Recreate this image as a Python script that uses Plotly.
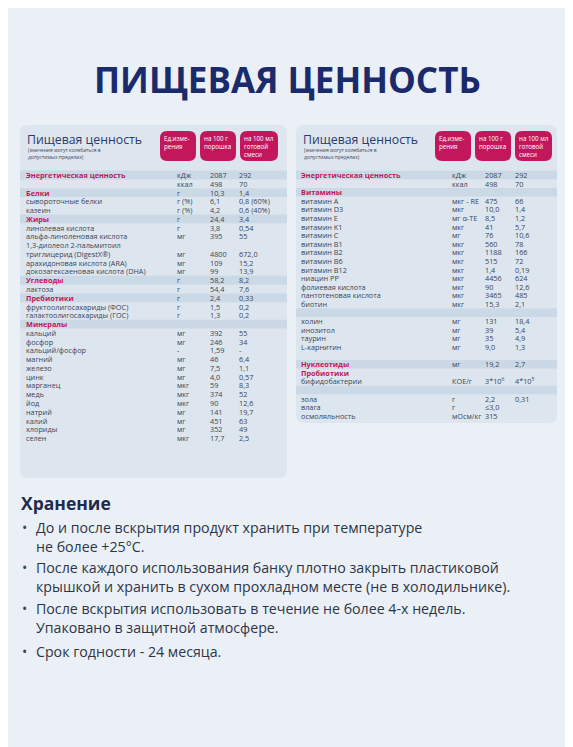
import plotly.graph_objects as go

W, H = 573, 747
# ---------- data ----------
left_names = ["Энергетическая ценность", "", "Белки", "сывороточные белки", "казеин", "Жиры",
              "линолевая кислота", "альфа-линоленовая кислота", "1,3-диолеол 2-пальмитоил",
              "триглицерид (DigestX®)", "арахидоновая кислота (ARA)", "докозагексаеновая кислота (DHA)",
              "Углеводы", "лактоза", "Пребиотики", "фруктоолигосахариды (ФОС)", "галактоолигосахариды (ГОС)",
              "Минералы", "кальций", "фосфор", "кальций/фосфор", "магний", "железо", "цинк", "марганец",
              "медь", "йод", "натрий", "калий", "хлориды", "селен"]
left_units = ["кДж", "ккал", "г", "г (%)", "г (%)", "г", "г", "мг", "", "мг", "мг", "мг", "г", "г", "г", "г", "г",
              "", "мг", "мг", "-", "мг", "мг", "мг", "мкг", "мкг", "мкг", "мг", "мг", "мг", "мкг"]
left_v1 = ["2087", "498", "10,3", "6,1", "4,2", "24,4", "3,8", "395", "", "4800", "109", "99", "58,2", "54,4",
           "2,4", "1,5", "1,3", "", "392", "246", "1,59", "46", "7,5", "4,0", "59", "374", "90", "141", "451",
           "352", "17,7"]
left_v2 = ["292", "70", "1,4", "0,8 (60%)", "0,6 (40%)", "3,4", "0,54", "55", "", "672,0", "15,2", "13,9", "8,2",
           "7,6", "0,33", "0,2", "0,2", "", "55", "34", "-", "6,4", "1,1", "0,57", "8,3", "52", "12,6", "19,7",
           "63", "49", "2,5"]
left_cat = [0, 2, 5, 12, 14, 17]

right_names = ["Энергетическая ценность", "", "Витамины", "витамин A", "витамин D3", "витамин E", "витамин K1",
               "витамин C", "витамин B1", "витамин B2", "витамин B6", "витамин B12", "ниацин PP",
               "фолиевая кислота", "пантотеновая кислота", "биотин", "", "холин", "инозитол", "таурин",
               "L-карнитин", "", "Нуклеотиды", "Пробиотики", "бифидобактерии", "", "зола", "влага",
               "осмоляльность"]
right_units = ["кДж", "ккал", "", "мкг - RE", "мкг", "мг α-TE", "мкг", "мг", "мкг", "мкг", "мкг", "мкг", "мкг",
               "мкг", "мкг", "мкг", "", "мг", "мг", "мг", "мг", "", "мг", "", "КОЕ/г", "", "г", "г", "мОсм/кг"]
right_v1 = ["2087", "498", "", "475", "10,0", "8,5", "41", "76", "560", "1188", "515", "1,4", "4456", "90",
            "3465", "15,3", "", "131", "39", "35", "9,0", "", "19,2", "", "3*10<sup>6</sup>", "", "2,2", "≤3,0", "315"]
right_v2 = ["292", "70", "", "66", "1,4", "1,2", "5,7", "10,6", "78", "166", "72", "0,19", "624", "12,6", "485",
            "2,1", "", "18,4", "5,4", "4,9", "1,3", "", "2,7", "", "4*10<sup>5</sup>", "", "0,31", "", ""]
right_cat = [0, 2, 22, 23]
right_band = [0, 2, 16, 22, 25]
left_band = [0, 2, 5, 12, 14, 17]

headers = ["Ед.изме-<br>рения", "на 100 г<br>порошка", "на 100 мл<br>готовой<br>смеси"]
storage_title = "Хранение"
storage_lines = [
    ["До и после вскрытия продукт хранить при температуре", "не более +25°С."],
    ["После каждого использования банку плотно закрыть пластиковой",
     "крышкой и хранить в сухом прохладном месте (не в холодильнике)."],
    ["После вскрытия использовать в течение не более 4-х недель.", "Упаковано в защитной атмосфере."],
    ["Срок годности - 24 месяца."],
]

PINK = "#c2185b"
NAVY = "#1b2a6b"
TXT = "#3a4556"
FONT = "Open Sans"
OFF = 8  # page body margin

fig = go.Figure()
shapes, ann = [], []

def rrect(x0, y0, x1, y1, r, color):
    p = (f"M{x0+r},{y0} L{x1-r},{y0} Q{x1},{y0} {x1},{y0+r} L{x1},{y1-r} Q{x1},{y1} {x1-r},{y1} "
         f"L{x0+r},{y1} Q{x0},{y1} {x0},{y1-r} L{x0},{y0+r} Q{x0},{y0} {x0+r},{y0} Z")
    shapes.append(dict(type="path", path=p, xref="x", yref="y", fillcolor=color, line_width=0, layer="below"))

def panel(px0, px1, py1, names, units, v1, v2, cats, bands, y0, dy, cols, boxes):
    rrect(px0, 125, px1, py1, 8, "#dde6ef")
    for b in bands:
        yc = y0 + b * dy
        shapes.append(dict(type="rect", xref="x", yref="y", x0=px0, x1=px1, y0=yc - dy / 2, y1=yc + dy / 2,
                           fillcolor="#cbd8e5", line_width=0, layer="below"))
    ann.append(dict(x=px0 + 5, y=139, text="Пищевая ценность", font=dict(size=12.3, color="#2a3a6a", family=FONT),
                    xanchor="left", yanchor="middle", showarrow=False, xref="x", yref="y"))
    ann.append(dict(x=px0 + 6, y=154, text="(значения могут колебаться в<br>допустимых пределах)",
                    font=dict(size=5, color=TXT, family=FONT), xanchor="left", yanchor="middle",
                    showarrow=False, xref="x", yref="y", align="left"))
    for (bx0, bx1), h in zip(boxes, headers):
        rrect(bx0, 131, bx1, 161, 7, PINK)
        ann.append(dict(x=bx0 + 3, y=133, text=h, font=dict(size=6.2, color="white", family=FONT),
                        xanchor="left", yanchor="top", showarrow=False, xref="x", yref="y", align="left",
                        borderpad=0))
    for i, (n, u, a, b) in enumerate(zip(names, units, v1, v2)):
        y = y0 + i * dy
        cat = i in cats
        for x, t, bold in [(cols[0], n, cat), (cols[1], u, False), (cols[2], a, False), (cols[3], b, False)]:
            if not t:
                continue
            ann.append(dict(x=x, y=y, text=f"<b>{t}</b>" if bold else t,
                            font=dict(size=7.3, color=PINK if bold else TXT, family=FONT),
                            xanchor="left", yanchor="middle", showarrow=False, xref="x", yref="y",
                            borderpad=0))

panel(20, 287, 478, left_names, left_units, left_v1, left_v2, left_cat, left_band, 175, 8.77,
      [25, 176, 209, 238], [(160, 196), (200, 236), (240, 278)])
panel(296, 557, 423, right_names, right_units, right_v1, right_v2, right_cat, right_band, 175, 8.6,
      [300, 451, 484, 514], [(435, 471), (475, 511), (515, 552)])

ann.append(dict(x=287, y=79, text="<b>ПИЩЕВАЯ ЦЕННОСТЬ</b>", font=dict(size=35, color=NAVY, family=FONT),
                xanchor="center", yanchor="middle", showarrow=False, xref="x", yref="y"))
ann.append(dict(x=19, y=503, text="<b>" + storage_title + "</b>", font=dict(size=17.5, color="#1f2b4a", family=FONT),
                xanchor="left", yanchor="middle", showarrow=False, xref="x", yref="y"))
ys = [[527, 546], [567, 586], [608, 627], [651]]
for lines, yy in zip(storage_lines, ys):
    ann.append(dict(x=20, y=yy[0], text="•", font=dict(size=14, color=TXT, family=FONT),
                    xanchor="left", yanchor="middle", showarrow=False, xref="x", yref="y"))
    for t, y in zip(lines, yy):
        ann.append(dict(x=34, y=y, text=t, font=dict(size=14.2, color="#2e3548", family=FONT),
                        xanchor="left", yanchor="middle", showarrow=False, xref="x", yref="y"))

fig.update_layout(width=W, height=H, margin=dict(l=0, r=0, t=0, b=0),
                  paper_bgcolor="#eaf0f6", plot_bgcolor="#eaf0f6",
                  xaxis=dict(range=[OFF, W + OFF], visible=False, fixedrange=True),
                  yaxis=dict(range=[H + OFF, OFF], visible=False, fixedrange=True),
                  shapes=shapes, annotations=ann, showlegend=False)
fig.write_html("out.html")
